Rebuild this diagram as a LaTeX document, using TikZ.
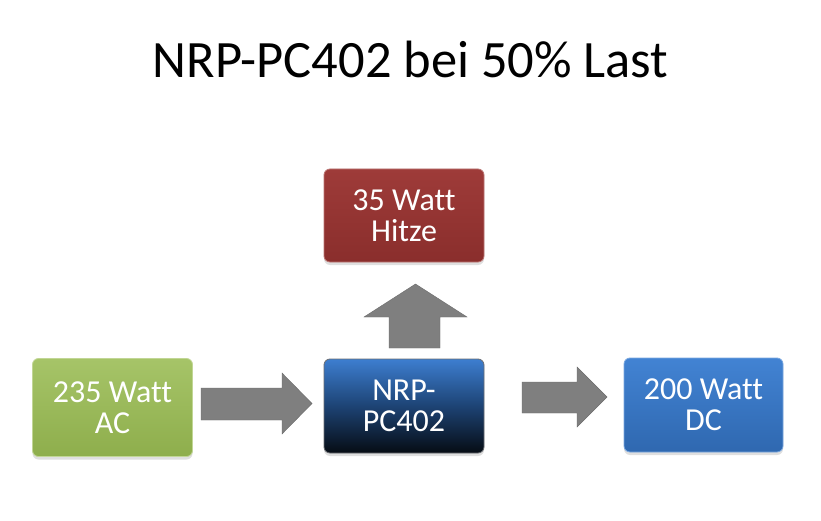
\documentclass[tikz,border=0pt]{standalone}
\usepackage{fontspec}
\setmainfont[Ligatures=NoCommon]{Carlito}
\usetikzlibrary{shadows}
\definecolor{grn}{HTML}{9BBB59}
\definecolor{grnT}{HTML}{A6C468}
\definecolor{grnB}{HTML}{8EAE4C}
\definecolor{redT}{HTML}{9E3B39}
\definecolor{redB}{HTML}{8A2E2C}
\definecolor{bluT}{HTML}{4283D3}
\definecolor{bluB}{HTML}{2F68B0}
\definecolor{ctrT}{HTML}{3D7ED0}
\definecolor{ctrM}{HTML}{1D4374}
\definecolor{ctrB}{HTML}{060C14}
\definecolor{arr}{HTML}{7F7F7F}
\tikzset{
  box/.style={rounded corners=6pt, minimum width=160pt, inner sep=0pt,
    text=white, align=center, font=\fontsize{32}{31}\selectfont,
    drop shadow={shadow xshift=0pt, shadow yshift=-3pt, opacity=0.25}},
  greenbox/.style={box, top color=grnT, bottom color=grnB, draw=grnT!70!white, line width=0.8pt},
  redbox/.style={box, top color=redT, bottom color=redB, draw=redT!70!white, line width=0.8pt},
  bluebox/.style={box, top color=bluT, bottom color=bluB, draw=bluT!70!white, line width=0.8pt},
  ctrbox/.style={box, top color=ctrT, bottom color=ctrB, middle color=ctrM, draw=ctrB!60!white, line width=0.8pt},
  blockarrow/.style={fill=arr, draw=arr!85!black, line width=0.4pt, line join=miter}
}
\begin{document}
\begin{tikzpicture}[x=1pt, y=-1pt]
\useasboundingbox (0,0) rectangle (821,521);
\fill[white] (0,0) rectangle (821,521);
\node[anchor=base, font=\fontsize{52.5}{60}\selectfont] (title) at (410.5,78) {NRP-PC402 bei 50\% Last};
\node[greenbox, minimum height=98pt] (ac) at (112.5,407.5) {235 Watt\\AC};
\node[redbox, minimum height=93pt] (heat) at (404,215.5) {35 Watt\\Hitze};
\node[ctrbox, minimum height=94pt] (psu) at (404,406) {NRP-\\PC402};
\node[bluebox, minimum height=94pt, minimum width=159pt] (dc) at (703.5,405) {200 Watt\\DC};
% block arrows
\filldraw[blockarrow] (201,388) -- (282,388) -- (282,373) -- (312,403.5) -- (282,434) -- (282,420) -- (201,420) -- cycle;
\filldraw[blockarrow] (522,382) -- (577,382) -- (577,367) -- (607,397) -- (577,427) -- (577,413) -- (522,413) -- cycle;
\filldraw[blockarrow] (389,348) -- (389,317) -- (364,317) -- (415.5,284) -- (467,317) -- (440,317) -- (440,348) -- cycle;
\end{tikzpicture}
\end{document}
